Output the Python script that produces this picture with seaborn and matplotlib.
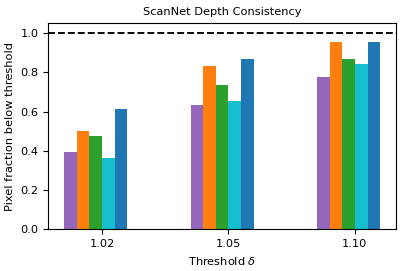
import matplotlib
matplotlib.use("Agg")
import matplotlib.pyplot as plt
import seaborn as sns
import pandas as pd

thresholds = ["1.02", "1.05", "1.10"]
methods = ["M1", "M2", "M3", "M4", "M5"]
colors = ["#9467bd", "#ff7f0e", "#2ca02c", "#17becf", "#1f77b4"]
m1 = [0.393, 0.631, 0.777]
m2 = [0.502, 0.830, 0.957]
m3 = [0.474, 0.735, 0.869]
m4 = [0.364, 0.655, 0.844]
m5 = [0.612, 0.867, 0.954]
series = [m1, m2, m3, m4, m5]

rows = []
for name, vals in zip(methods, series):
    for t, v in zip(thresholds, vals):
        rows.append({"threshold": t, "method": name, "value": v})
df = pd.DataFrame(rows)

plt.rcParams["font.family"] = ["DejaVu Sans"]
fs = 8.2
fig = plt.figure(figsize=(4.07, 2.71), dpi=100)
ax = fig.add_axes([0.1187, 0.154, 0.8543, 0.760])
sns.barplot(data=df, x="threshold", y="value", hue="method", order=thresholds,
            hue_order=methods, palette=colors, width=0.5, dodge=True,
            legend=False, ax=ax, saturation=1, edgecolor="none", linewidth=0)
ax.axhline(1.0, color="black", linestyle="--", linewidth=1.35)
ax.set_ylim(0, 1.05)
ax.set_xlim(-0.375, 2.375)
ax.set_xticks([i + 0.05 for i in range(len(thresholds))])
ax.set_xticklabels(thresholds)
ax.tick_params(labelsize=fs)
ax.set_xlabel("Threshold $\\delta$", fontsize=fs)
ax.set_ylabel("Pixel fraction below threshold", fontsize=fs)
ax.set_title("ScanNet Depth Consistency", fontsize=fs)
fig.savefig("out.png", dpi=100)
